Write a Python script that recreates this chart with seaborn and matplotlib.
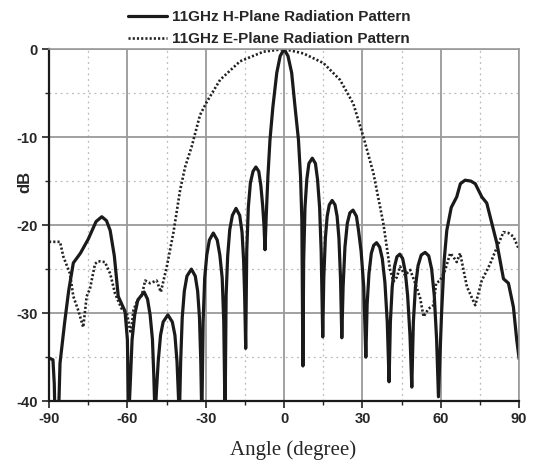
import numpy as np
import pandas as pd
import matplotlib
matplotlib.use("Agg")
import matplotlib.pyplot as plt
import seaborn as sns
from matplotlib.ticker import MultipleLocator

# H-plane (solid) pattern, angle in degrees, level in dB
h_angle = [-90, -88.5, -88, -87.7, -86.4, -85.8, -84, -82.5, -80.7, -78, -75, -72, -69.8, -68, -66.6, -65, -63.5,
           -60.9, -60, -59.5,
           -58.9, -58.2, -57.2, -56, -53.6, -52.3, -51.3, -50.4, -49.9, -49.4,
           -48.9, -48.2, -47.3, -46.3, -44.5, -42.8, -41.8, -41, -40.5, -40.1,
           -39.6, -39, -38.2, -37.2, -35.5, -34, -33.1, -32.4, -31.9, -31.5,
           -31, -30.4, -29.6, -28.6, -27.1, -25.6, -24.6, -23.7, -23.1, -22.6,
           -22.2, -21.6, -20.8, -19.8, -18.4, -17, -16.1, -15.5, -15.1, -14.7,
           -14.3, -13.7, -12.9, -11.9, -10.8, -9.7, -8.9, -8.2, -7.7, -7.3,
           -6.9, -6.2, -5.4, -4.3, -2.8, -1.5, 0, 1.5, 2.9, 4.2, 5.5, 6.3, 6.8, 7.2,
           7.5, 8.0, 8.7, 9.5, 10.8, 12, 12.8, 13.6, 14.2, 14.8,
           15.2, 15.8, 16.5, 17.3, 18.4, 19.5, 20.3, 21, 21.6, 22.1,
           22.6, 23.3, 24.2, 25.2, 26.4, 27.7, 28.5, 29.5, 30.5, 31.3,
           31.8, 32.5, 33.4, 34.3, 35.4, 36.6, 37.6, 38.6, 39.5, 40.2,
           40.7, 41.4, 42.3, 43.2, 44.3, 45.4, 46.4, 47.3, 48.2, 48.9,
           49.5, 50.3, 51.3, 52.5, 54, 55.4, 56.5, 57.5, 58.4, 59.1,
           60.3, 61.3, 62.3, 64, 66.1, 67.5, 69.3, 71.5, 73.2, 75.7, 77.6, 80.2, 81.5, 84, 85.9, 87.8, 89.1, 90]
h_db = [-35.1, -35.3, -38, -42, -42, -35.7, -31, -27.5, -24.3, -23.2, -21.6, -19.6, -19.05, -19.5, -20.6, -23.5, -28.1,
        -29.8, -33, -42,
        -38, -33, -30.2, -28.5, -27.6, -28.4, -30.2, -33, -37, -42,
        -39, -35.5, -32.5, -31, -30.2, -31, -32.5, -35.5, -39, -42,
        -35.5, -30.5, -27.5, -25.8, -25.0, -25.8, -27.5, -30.5, -35.5, -42,
        -31, -26, -23.4, -21.7, -20.9, -21.7, -23.4, -26, -31, -42,
        -28, -23.5, -20.5, -18.9, -18.1, -18.9, -20.8, -24, -28, -34.0,
        -23, -18, -15.2, -13.9, -13.4, -13.9, -15.5, -17.8, -20, -22.8,
        -19.4, -14.5, -10.3, -6.6, -2.7, -0.8, 0, -0.8, -2.7, -6.6, -10.3, -14.5, -19.4, -36.0,
        -24, -18, -14.8, -13, -12.4, -13, -14.8, -18, -23, -32.7,
        -26, -21.5, -19, -17.7, -17.2, -17.7, -19, -21.5, -26, -32.8,
        -27, -22.5, -19.8, -18.6, -18.3, -19, -20.6, -23, -27, -35.0,
        -29, -25.5, -23.2, -22.3, -22.0, -22.5, -23.8, -26.5, -31, -37.8,
        -31, -27, -24.7, -23.6, -23.3, -23.8, -25.3, -28, -32.5, -38.4,
        -31, -27, -24.6, -23.4, -23.1, -23.5, -25, -28, -33, -39.5,
        -30, -24, -20.6, -18, -16.8, -15.3, -14.9, -15, -15.3, -16.8, -17.5, -20.6, -22.1, -26.1, -26.6, -29.3, -33.1, -35.2]

# E-plane (dotted) pattern
e_angle = [-90, -85.8, -84.5, -82, -80.7, -78.8, -76.9, -75.6, -74.3, -72.4, -71.1, -68.6, -66.6, -64.7, -62.2, -60.2,
           -58.7, -57.7, -56.4, -54.5, -53.2, -51.3, -48.8, -47.2, -44.9, -42.4, -39.8, -37.9, -35.4, -32.2, -29.6,
           -24.5, -16.9, -7.9, 0, 7.4, 15.1, 21.4, 26.5, 30.4, 34.2, 38.0, 40.6, 41.9, 43.2, 44.4, 46.3, 48.3, 50.2,
           52.1, 53.4, 55.3, 57.2, 58.2, 59.7, 61.7, 63.6, 64.8, 66.1, 67.4, 70.0, 73.2, 75.7, 78.9, 81.5, 84.0,
           85.9, 87.8, 90]
e_db = [-21.9, -21.9, -23.6, -25.5, -28.1, -29.7, -31.6, -28.1, -27.2, -24.4, -24.1, -24.2, -25.5, -27.8, -29.5, -30.0,
        -32.3, -29.7, -28.7, -28.0, -26.3, -26.6, -26.3, -27.6, -24.7, -20.9, -16.0, -13.4, -11.1, -7.5, -6.0,
        -3.5, -1.4, -0.3, 0, -0.5, -1.6, -3.5, -6.2, -10.0, -14.1, -19.8, -25.1, -26.4, -25.9, -24.7, -25.7, -25.1, -26.6,
        -28.3, -30.4, -29.5, -29.1, -26.6, -26.3, -25.1, -23.2, -23.6, -24.2, -23.2, -27.0, -29.1, -26.3, -24.4, -22.5, -20.8,
        -20.9, -21.3, -22.8]

x_ticks = [-90, -60, -30, 0, 30, 60, 90]
y_ticks = [0, -10, -20, -30, -40]
h_label = "11GHz H-Plane Radiation Pattern"
e_label = "11GHz E-Plane Radiation Pattern"

df_h = pd.DataFrame({"angle": h_angle, "dB": h_db})
df_e = pd.DataFrame({"angle": e_angle, "dB": e_db})

sns.set_style("white")
plt.rcParams["font.family"] = ["Liberation Sans", "DejaVu Sans"]
plt.rcParams["axes.unicode_minus"] = False

fig = plt.figure(figsize=(5.33, 4.67), dpi=100)
ax = fig.add_axes([0.092, 0.141, 0.882, 0.754])

sns.lineplot(data=df_h, x="angle", y="dB", sort=False, ax=ax, color="#1a1a1a",
             linewidth=2.3, label=h_label)
sns.lineplot(data=df_e, x="angle", y="dB", sort=False, ax=ax, color="#222222",
             linewidth=1.9, linestyle=(0, (0.8, 0.8)), label=e_label)

ax.set_xlim(-90, 90)
ax.set_ylim(-40, 0)
ax.set_xticks(x_ticks)
ax.set_yticks(y_ticks)
ax.xaxis.set_minor_locator(MultipleLocator(15))
ax.yaxis.set_minor_locator(MultipleLocator(5))
ax.grid(which="major", color="#9a9a9a", linewidth=1.3, linestyle="-")
ax.grid(which="minor", color="#bbbbbb", linewidth=0.9, linestyle=(0, (1.5, 3)))
ax.set_axisbelow(True)

for lab in ax.get_xticklabels() + ax.get_yticklabels():
    lab.set_fontweight("bold")
    lab.set_fontsize(10.5)
ax.tick_params(which="major", direction="out", length=5, width=1.2, color="#222222", pad=3)
ax.tick_params(which="minor", direction="out", length=3, width=1.0, color="#222222")
ax.tick_params(axis="x", which="both", bottom=True)
ax.tick_params(axis="y", which="both", left=True)

for side in ["left", "bottom"]:
    ax.spines[side].set_color("#1a1a1a")
    ax.spines[side].set_linewidth(1.6)
for side in ["top", "right"]:
    ax.spines[side].set_color("#999999")
    ax.spines[side].set_linewidth(1.2)

ax.set_xlabel("Angle (degree)", fontfamily=["Liberation Serif", "DejaVu Serif"], fontsize=15)
ax.xaxis.set_label_coords(293 / 470 - 49 / 470, -0.112)
ax.set_ylabel("dB", fontweight="bold", fontsize=12, va="center", ha="center")
ax.yaxis.set_label_coords(-0.051, (401 - 182) / 352)

ax.get_legend().remove()
handles, labels = ax.get_legend_handles_labels()
fig.legend(handles, labels, loc="upper center", bbox_to_anchor=(0.505, 1.007), frameon=False,
           handlelength=2.6, handletextpad=0.3, labelspacing=0.5,
           prop={"family": "Liberation Sans", "weight": "bold", "size": 11})

fig.savefig("out.png", dpi=100)
